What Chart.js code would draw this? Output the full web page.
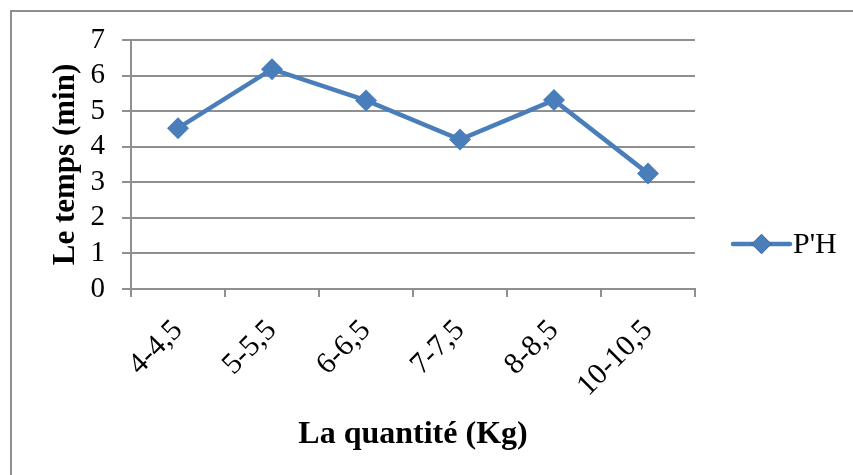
<!DOCTYPE html>
<html lang="fr">
<head>
<meta charset="UTF-8">
<title>Le temps selon la quantité</title>
<script src="https://cdn.jsdelivr.net/npm/chart.js"></script>
<style>
  html, body { margin: 0; padding: 0; background: #fff; overflow: hidden; }
  .wrap { position: relative; width: 853px; height: 475px; }
  /* cadre du graphique (seuls les bords haut et gauche sont visibles) */
  .frame {
    position: absolute; left: 10px; top: 10px; width: 900px; height: 500px;
    border-left: 2px solid #8f8f8f; border-top: 2px solid #8f8f8f;
  }
  canvas { position: absolute; left: 0; top: 0; }
</style>
</head>
<body>
<div class="wrap">
  <div class="frame"></div>
  <canvas id="chart" width="853" height="475"></canvas>
</div>
<script>
// Données
const categories = ["4-4,5", "5-5,5", "6-6,5", "7-7,5", "8-8,5", "10-10,5"];
const tempsPH = [4.52, 6.18, 5.3, 4.2, 5.31, 3.25];
const yTicks = [0, 1, 2, 3, 4, 5, 6, 7];

const serif = "'Liberation Serif', 'Times New Roman', serif";
const bleu = "#4A7EBB";
const gris = "#8f8f8f";

// Légende dessinée à la manière d'Excel : trait + losange
const legendeExcel = {
  id: "legendeExcel",
  afterDraw(chart) {
    const ctx = chart.ctx;
    const ds = chart.data.datasets[0];
    const area = chart.chartArea;
    const x0 = area.right + 38, x1 = x0 + 57, y = 244;
    ctx.save();
    ctx.strokeStyle = ds.borderColor;
    ctx.lineWidth = 4.5;
    ctx.lineCap = "round";
    ctx.beginPath();
    ctx.moveTo(x0, y);
    ctx.lineTo(x1, y);
    ctx.stroke();
    Chart.helpers.drawPoint(ctx, { pointStyle: "rectRot", radius: 10, borderWidth: 0 }, (x0 + x1) / 2, y);
    ctx.fillStyle = ds.borderColor;
    ctx.fill();
    ctx.fillStyle = "#000";
    ctx.font = "30px " + serif;
    ctx.textBaseline = "middle";
    ctx.textAlign = "left";
    ctx.fillText(ds.label, x1 + 3, y + 1);
    ctx.restore();
  }
};

new Chart(document.getElementById("chart"), {
  type: "line",
  data: {
    labels: categories,
    datasets: [{
      label: "P'H",
      data: tempsPH,
      borderColor: bleu,
      backgroundColor: bleu,
      borderWidth: 4.5,
      pointStyle: "rectRot",
      pointRadius: 11,
      pointHoverRadius: 11,
      pointBorderWidth: 0,
      tension: 0
    }]
  },
  options: {
    responsive: false,
    devicePixelRatio: 1,
    animation: false,
    layout: { padding: { left: 40, top: 40, right: 158, bottom: 5 } },
    plugins: { legend: { display: false }, tooltip: { enabled: false } },
    scales: {
      x: {
        offset: true,
        grid: { offset: true, drawOnChartArea: false, drawTicks: true, tickLength: 8, color: gris, lineWidth: 2 },
        border: { display: true, color: gris, width: 2 },
        ticks: {
          color: "#000", font: { family: serif, size: 30 },
          minRotation: 45, maxRotation: 45, autoSkip: false, padding: 16
        },
        title: {
          display: true, text: "La quantité (Kg)", color: "#000",
          font: { family: serif, size: 32, weight: "bold" },
          padding: { top: 0, bottom: 16 }
        },
        afterFit(scale) { scale.height = 181; }
      },
      y: {
        min: 0, max: 7,
        afterBuildTicks(scale) { scale.ticks = yTicks.map(v => ({ value: v })); },
        grid: { color: gris, lineWidth: 2, drawTicks: true, tickLength: 9 },
        border: { display: true, color: gris, width: 2 },
        ticks: { color: "#000", font: { family: serif, size: 29 }, padding: 17, autoSkip: false },
        title: {
          display: true, text: "Le temps (min)", color: "#000",
          font: { family: serif, size: 31, weight: "bold" },
          padding: { top: 7, bottom: 0 }
        },
        afterFit(scale) { scale.width = 91; }
      }
    }
  },
  plugins: [legendeExcel]
});
</script>
</body>
</html>
